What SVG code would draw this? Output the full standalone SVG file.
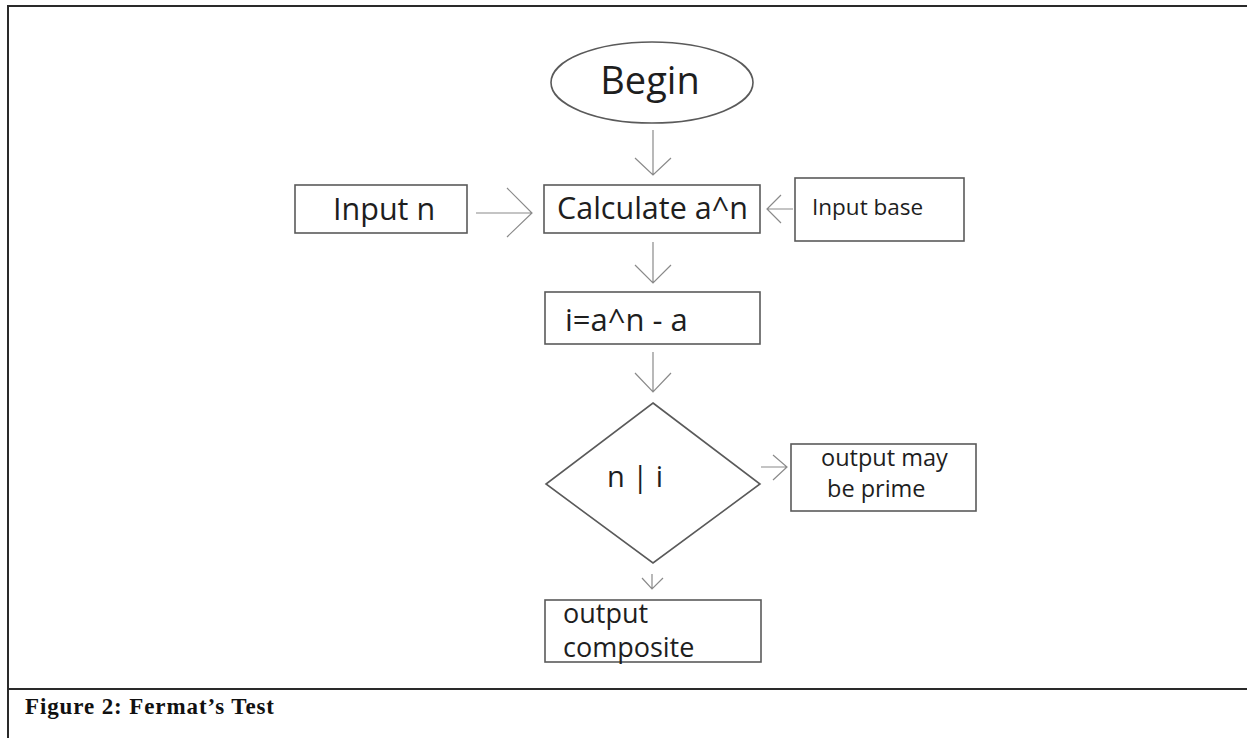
<svg xmlns="http://www.w3.org/2000/svg" width="1247" height="738" viewBox="0 0 1247 738">
<style>
.frame{stroke:#2a2a2a;stroke-width:2;fill:none}
.node{fill:#fff;stroke:#5a5a5a;stroke-width:1.6}
.conn{fill:none;stroke:#8a8a8a;stroke-width:1.2}
.lbl{font-family:"Open Sans","Noto Sans","Liberation Sans",sans-serif;fill:#1e1e1e}
.cap{font-family:"Liberation Serif","Times New Roman",serif;font-weight:bold;fill:#111;font-size:23px}
</style>
<rect width="1247" height="738" fill="#fff"/>
<g id="frame">
<line class="frame" x1="8" y1="6" x2="1247" y2="6"/>
<line class="frame" x1="8" y1="5" x2="8" y2="738"/>
<line class="frame" x1="8" y1="689" x2="1247" y2="689"/>
<text class="cap" x="25" y="714" textLength="249" lengthAdjust="spacing">Figure 2: Fermat’s Test</text>
</g>
<g id="connectors">
<path class="conn" d="M653 130V175M635 158L653 175L671 158"/>
<path class="conn" d="M476 213H532M507 188L532 213L507 237"/>
<path class="conn" d="M793 209H767M781 195L767 209L781 223"/>
<path class="conn" d="M653 242V283M635 265L653 283L671 265"/>
<path class="conn" d="M653 352V392M635 373L653 392L671 373"/>
<path class="conn" d="M761 467H787M773 455L787 467L773 480"/>
<path class="conn" d="M652 574V589M642 578L652 589L663 578"/>
</g>
<g id="begin">
<ellipse class="node" cx="652" cy="82.5" rx="101" ry="40.5"/>
<text class="lbl" x="650" y="94" font-size="38" text-anchor="middle">Begin</text>
</g>
<g id="input-n">
<rect class="node" x="295" y="185" width="172" height="48"/>
<text class="lbl" x="333" y="220" font-size="30.5">Input n</text>
</g>
<g id="calculate">
<rect class="node" x="544" y="185" width="216" height="48"/>
<text class="lbl" x="557" y="219" font-size="30.5">Calculate a^n</text>
</g>
<g id="input-base">
<rect class="node" x="795" y="178" width="169" height="63"/>
<text class="lbl" x="812" y="215" font-size="22.5">Input base</text>
</g>
<g id="compute-i">
<rect class="node" x="545" y="292" width="215" height="52"/>
<text class="lbl" x="565" y="331" font-size="31">i=a^n - a</text>
</g>
<g id="decision">
<polygon class="node" points="653,403 760,484 653,563 546,484"/>
<text class="lbl" x="607" y="487" font-size="29">n | i</text>
</g>
<g id="may-be-prime">
<rect class="node" x="791" y="444" width="185" height="67"/>
<text class="lbl" x="821" y="466" font-size="23.5">output may</text>
<text class="lbl" x="827" y="497" font-size="23.5">be prime</text>
</g>
<g id="composite">
<rect class="node" x="545" y="600" width="216" height="62"/>
<text class="lbl" x="563" y="623" font-size="27">output</text>
<text class="lbl" x="563" y="657" font-size="27">composite</text>
</g>
</svg>
